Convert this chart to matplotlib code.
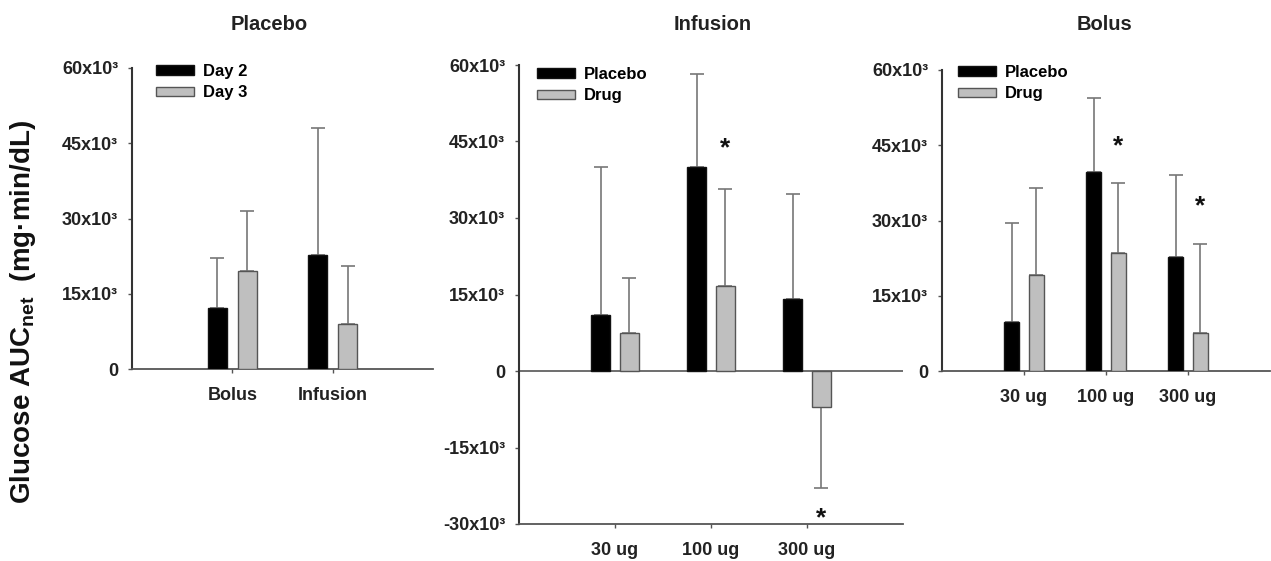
import matplotlib
matplotlib.use('Agg')
import matplotlib.pyplot as plt
import matplotlib.patches as mpatches
import numpy as np

plt.rcParams['font.family'] = ['Liberation Sans', 'DejaVu Sans']
plt.rcParams['font.weight'] = 'bold'
plt.rcParams['mathtext.fontset'] = 'custom'
plt.rcParams['mathtext.rm'] = 'Liberation Sans:bold'
plt.rcParams['mathtext.bf'] = 'Liberation Sans:bold'

# Placebo panel (day 2 vs day 3)
PLACEBO_GROUPS = ['Bolus', 'Infusion']
DAY2_MEAN = [12200, 22700]
DAY2_ERR = [9900, 25300]
DAY3_MEAN = [19500, 9000]
DAY3_ERR = [12000, 11500]

# Dose panels
DOSES = ['30 ug', '100 ug', '300 ug']

INF_PLACEBO_MEAN = [11000, 40000, 14100]
INF_PLACEBO_ERR = [29000, 18200, 20600]
INF_DRUG_MEAN = [7500, 16700, -7100]
INF_DRUG_ERR = [10700, 19000, 15800]
INF_STARS = [None, 45300, -27300]

BOL_PLACEBO_MEAN = [9800, 39700, 22700]
BOL_PLACEBO_ERR = [19700, 14700, 16300]
BOL_DRUG_MEAN = [19100, 23500, 7600]
BOL_DRUG_ERR = [17400, 13900, 17700]
BOL_STARS = [None, 46400, 34500]

BLACK = dict(color='#000000', edgecolor='#111111')
GRAY = dict(color='#bfbfbf', edgecolor='#555555')
W, H = 1271, 561


def fmt_tick(v):
    """Tick labels like 15x10³."""
    if v == 0:
        return '0'
    return '%dx10³' % int(v / 1000)


def px_box(left, right, top, bottom):
    """Axes rectangle from pixel edges."""
    return [left / W, 1 - bottom / H, (right - left) / W, (bottom - top) / H]


def draw_panel(ax, groups, first, second, labels, ylim, legend_xy, stars=None):
    """
    Draw one grouped bar panel with one sided error bars.
    :param first: (means, errors) for the black bars.
    :param second: (means, errors) for the gray bars.
    :param legend_xy: top left corner of the legend, in pixels.
    """
    x = np.arange(1, len(groups) + 1)
    for offset, (mean, err), style in ((-0.15, first, BLACK), (0.15, second, GRAY)):
        ax.bar(x + offset, mean, width=0.19, linewidth=1, zorder=3, **style)
        lower = [e if m < 0 else 0 for m, e in zip(mean, err)]
        upper = [0 if m < 0 else e for m, e in zip(mean, err)]
        ax.errorbar(x + offset, mean, yerr=[lower, upper], fmt='none', ecolor='#777777',
                    elinewidth=1.2, capsize=5, capthick=1.2, zorder=2)

    if stars is not None:
        for xi, s in zip(x, stars):
            if s is None:
                continue
            ax.annotate('*', (xi + 0.15, s), xytext=(0, -11), textcoords='offset points',
                        ha='center', va='baseline', fontsize=19, color='#111111')

    ax.set_xlim(0, len(groups) + 1)
    ax.set_ylim(*ylim)
    ticks = np.arange(ylim[0], ylim[1] + 1, 15000)
    ax.set_yticks(ticks)
    ax.set_yticklabels([fmt_tick(t) for t in ticks])
    ax.set_xticks(x)
    ax.set_xticklabels(groups)
    if ylim[0] < 0:
        ax.axhline(0, color='#555555', lw=1.2, zorder=1)

    for side in ('top', 'right'):
        ax.spines[side].set_visible(False)
    ax.spines['left'].set_color('#333333')
    ax.spines['left'].set_linewidth(1.5)
    ax.spines['bottom'].set_color('#555555')
    ax.spines['bottom'].set_linewidth(1.3)
    ax.tick_params(axis='y', length=3, width=1, color='#555555', pad=7, labelsize=13, labelcolor='#222222')
    ax.tick_params(axis='x', length=3, width=1, color='#555555', pad=10, labelsize=13, labelcolor='#222222')

    handles = [mpatches.Patch(facecolor=BLACK['color'], edgecolor=BLACK['edgecolor']),
               mpatches.Patch(facecolor=GRAY['color'], edgecolor=GRAY['edgecolor'])]
    ax.legend(handles, labels, loc='upper left',
              bbox_to_anchor=(legend_xy[0] / W, 1 - legend_xy[1] / H),
              bbox_transform=ax.figure.transFigure, frameon=False,
              fontsize=12, handlelength=2.3, handleheight=0.5, handletextpad=0.5,
              labelspacing=0.38, borderpad=0, borderaxespad=0)


def main():
    fig = plt.figure(figsize=(W / 100, H / 100), dpi=100)

    ax1 = fig.add_axes(px_box(132, 433, 68, 369))
    draw_panel(ax1, PLACEBO_GROUPS, (DAY2_MEAN, DAY2_ERR), (DAY3_MEAN, DAY3_ERR),
               ['Day 2', 'Day 3'], (0, 60000), (156, 64))

    ax2 = fig.add_axes(px_box(519, 903, 65, 524))
    draw_panel(ax2, DOSES, (INF_PLACEBO_MEAN, INF_PLACEBO_ERR), (INF_DRUG_MEAN, INF_DRUG_ERR),
               ['Placebo', 'Drug'], (-30000, 60000), (537, 67), INF_STARS)

    ax3 = fig.add_axes(px_box(942, 1270, 70, 371))
    draw_panel(ax3, DOSES, (BOL_PLACEBO_MEAN, BOL_PLACEBO_ERR), (BOL_DRUG_MEAN, BOL_DRUG_ERR),
               ['Placebo', 'Drug'], (0, 60000), (958, 65), BOL_STARS)

    for label, xc in (('Placebo', 269), ('Infusion', 713), ('Bolus', 1105)):
        fig.text(xc / W, 1 - 25 / H, label, ha='center', va='center', fontsize=14.5,
                 color='#222222')

    fig.text(23 / W, 1 - 312 / H, 'Glucose AUC$_{\\mathrm{net}}$  (mg·min/dL)', rotation=90,
             ha='center', va='center', fontsize=20, color='#111111')

    fig.savefig('out.png', dpi=100)


if __name__ == '__main__':
    main()
